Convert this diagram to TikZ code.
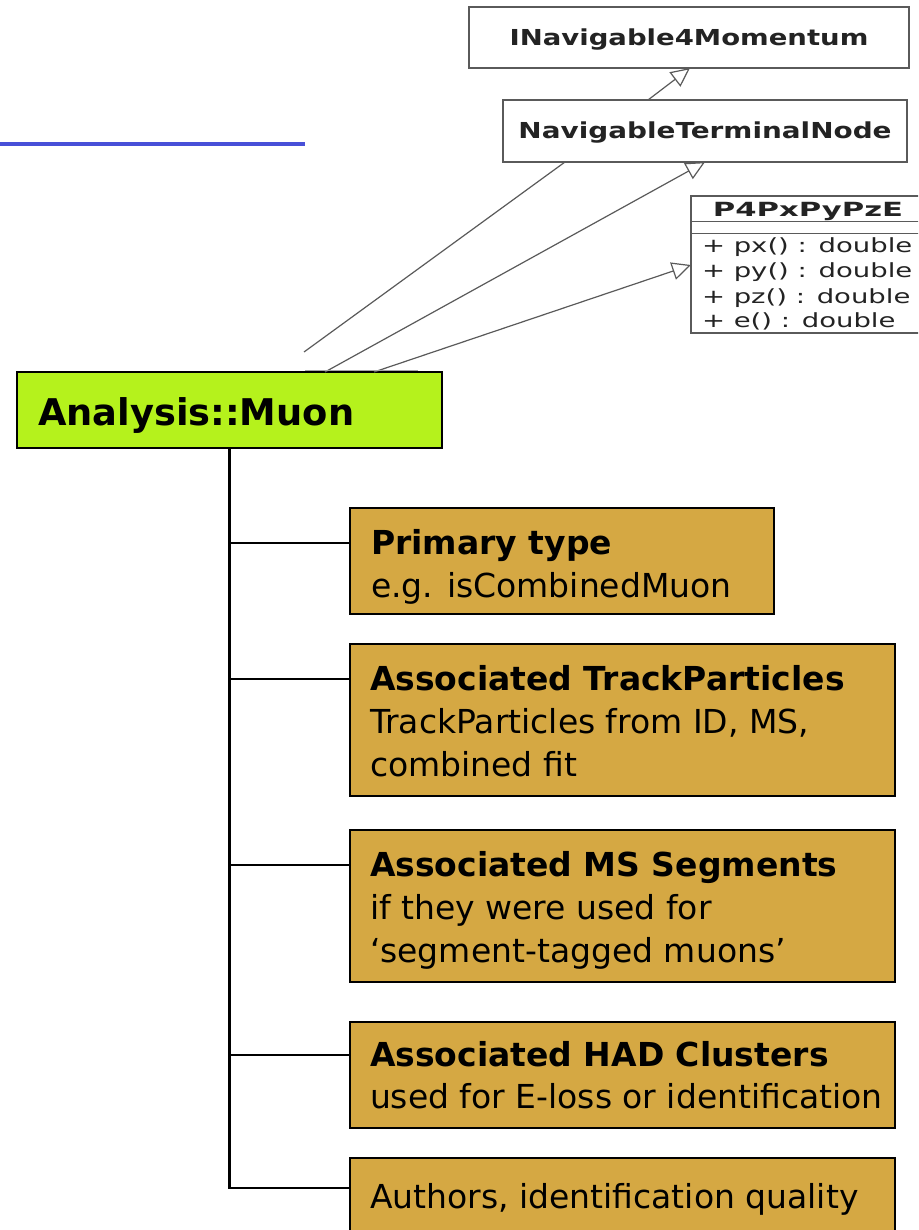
\documentclass[tikz,border=0pt]{standalone}
\usepackage{fontspec}
\setmainfont{DejaVu Sans}
\usetikzlibrary{arrows.meta}

\definecolor{muongreen}{RGB}{181,242,28}
\definecolor{boxgold}{RGB}{213,168,67}
\definecolor{slideblue}{RGB}{72,80,216}
\definecolor{umlgray}{RGB}{90,90,90}
\definecolor{umltext}{RGB}{35,35,35}

% horizontally widened text for the class diagram
\newcommand\widetext[2]{\scalebox{#1}[1]{#2}}

\begin{document}
\begin{tikzpicture}[x=1pt, y=-1pt,
  every node/.style={outer sep=0pt},
  boxtext/.style={anchor=base west, inner sep=0pt, font=\fontsize{33pt}{43pt}\selectfont},
  infobox/.style={draw=black, line width=1.4pt, fill=boxgold, anchor=north west, inner sep=0pt},
  trunk/.style={draw=black, line width=2.2pt},
  umlbox/.style={draw=umlgray, line width=1.3pt, fill=white, anchor=north west, inner sep=0pt},
  umlline/.style={draw=umlgray, line width=1.2pt},
  umlarrow/.style={umlline, -{Triangle[open, length=19pt, width=18pt]}},
  umltitle/.style={text=umltext, font=\bfseries\fontsize{22pt}{26pt}\selectfont, text height=16pt, text depth=0pt},
  umlrow/.style={text=umltext, anchor=base west, inner sep=0pt, font=\fontsize{19.5pt}{23pt}\selectfont},
]
\clip (0,0) rectangle (918,1230);
\fill[white] (0,0) rectangle (918,1230);

% title rule
\draw[slideblue, line width=4.5pt] (0,144) -- (305,144);

% class diagram
\node[umlbox, minimum width=440pt, minimum height=61pt, umltitle] (inav) at (469,7)
  {\widetext{1.25}{INavigable4Momentum}};
\node[umlbox, minimum width=404pt, minimum height=62pt, umltitle] (ntn) at (503,100)
  {\widetext{1.267}{NavigableTerminalNode}};
\node[umlbox, minimum width=240pt, minimum height=137pt] (p4) at (691,196) {};
\draw[umlline] ([yshift=-25.7pt]p4.north west) -- ++(240,0);
\draw[umlline] ([yshift=-37.3pt]p4.north west) -- ++(240,0);
\node[anchor=base, inner sep=0pt, text=umltext, font=\bfseries\fontsize{19.5pt}{23pt}\selectfont]
  (p4title) at (808,217) {\widetext{1.57}{P4PxPyPzE}};
\node[umlrow] (rowpx) at (702,253) {\widetext{1.41}{+ px() : double}};
\node[umlrow] (rowpy) at (702,278) {\widetext{1.41}{+ py() : double}};
\node[umlrow] (rowpz) at (702,303) {\widetext{1.41}{+ pz() : double}};
\node[umlrow] (rowe)  at (702,327) {\widetext{1.41}{+ e() : double}};

% muon class box
\node[draw=black, line width=1.8pt, fill=muongreen, anchor=north west,
      minimum width=425pt, minimum height=76pt, inner sep=0pt] (muon) at (17,372) {};
\node[anchor=base west, inner sep=0pt, font=\bfseries\fontsize{36.8pt}{40pt}\selectfont]
  (muonlabel) at ([xshift=21pt, yshift=-53pt]muon.north west) {Analysis::Muon};

% inheritance links
\coordinate (cut) at (304,352);
\draw[umlarrow] ([xshift=145pt]ntn.north west) -- ([xshift=221pt]inav.south west);
\draw[umlline] ([xshift=62pt]ntn.south west) -- (cut);
\draw[umlarrow] ([xshift=308pt]muon.north west) -- ([xshift=202pt]ntn.south west);
\draw[umlarrow] ([xshift=357pt]muon.north west) -- ([yshift=-69pt]p4.north west);
\draw[black!35, line width=0.8pt] ([xshift=288pt, yshift=2pt]muon.north west) -- ++(113,0);

% member boxes
\node[infobox, minimum width=424pt, minimum height=106pt] (prim)  at (350,508) {};
\node[infobox, minimum width=545pt, minimum height=152pt] (track) at (350,644) {};
\node[infobox, minimum width=545pt, minimum height=152pt] (seg)   at (350,830) {};
\node[infobox, minimum width=545pt, minimum height=106pt] (had)   at (350,1022) {};
\node[infobox, minimum width=545pt, minimum height=110pt] (auth)  at (350,1158) {};

\node[boxtext] (primA) at ([xshift=21pt, yshift=-46pt]prim.north west) {\bfseries Primary type};
\node[boxtext] (primB) at ([xshift=21pt, yshift=-89pt]prim.north west) {e.g. isCombinedMuon};

\node[boxtext] (trackA) at ([xshift=20pt, yshift=-46pt]track.north west) {\bfseries Associated TrackParticles};
\node[boxtext] (trackB) at ([xshift=20pt, yshift=-89pt]track.north west) {TrackParticles from ID, MS,};
\node[boxtext] (trackC) at ([xshift=20pt, yshift=-132pt]track.north west) {combined fit};

\node[boxtext] (segA) at ([xshift=20pt, yshift=-46pt]seg.north west) {\bfseries Associated MS Segments};
\node[boxtext] (segB) at ([xshift=20pt, yshift=-89pt]seg.north west) {if they were used for};
\node[boxtext] (segC) at ([xshift=20pt, yshift=-132pt]seg.north west) {‘segment-tagged muons’};

\node[boxtext] (hadA) at ([xshift=20pt, yshift=-44pt]had.north west) {\bfseries Associated HAD Clusters};
\node[boxtext] (hadB) at ([xshift=20pt, yshift=-86pt]had.north west) {used for E-loss or identification};

\node[boxtext] (authA) at ([xshift=20pt, yshift=-50pt]auth.north west) {Authors, identification quality};

% tree connectors
\coordinate (c1) at ([yshift=-35pt]prim.north west);
\coordinate (c2) at ([yshift=-35pt]track.north west);
\coordinate (c3) at ([yshift=-35pt]seg.north west);
\coordinate (c4) at ([yshift=-33pt]had.north west);
\coordinate (c5) at ([yshift=-30pt]auth.north west);
\draw[trunk] (muon.south) -- (muon.south |- c5) -- (c5);
\foreach \c in {c1,c2,c3,c4}
  \draw[trunk] (muon.south |- \c) -- (\c);
\end{tikzpicture}
\end{document}
